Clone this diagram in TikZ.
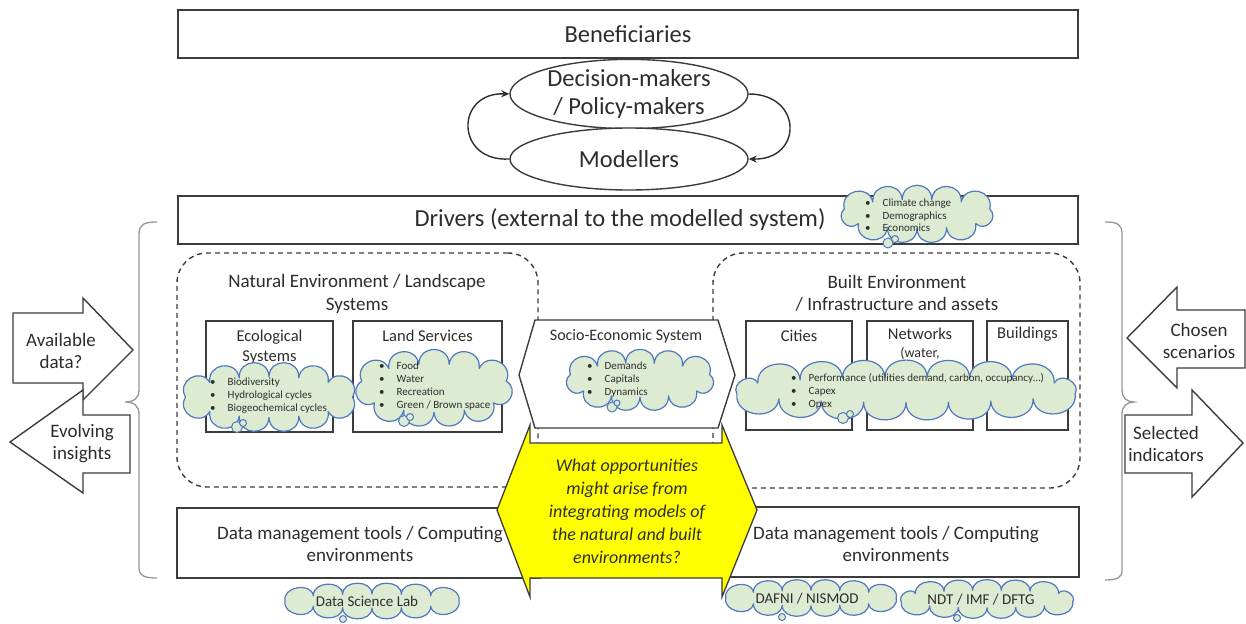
\documentclass[tikz,border=0pt]{standalone}
\usepackage{fontspec}
\setmainfont{Carlito}
\usetikzlibrary{shapes.geometric,arrows.meta}
\definecolor{ink}{RGB}{45,45,45}
\definecolor{edge}{RGB}{60,60,60}
\definecolor{cloudfill}{RGB}{221,235,211}
\definecolor{cloudline}{RGB}{79,120,190}
\definecolor{bracec}{RGB}{150,150,150}
\definecolor{yel}{RGB}{255,255,0}
\newcommand\fs[2]{\fontsize{#1}{#2}\selectfont}
\newcommand\bl{\textbullet\hspace{12pt}}
% cloud: #1 cx, #2 cy, #3 outer width, #4 outer height, #5 number of puffs, #6 puff factor
\newcommand\cloudit[4]{%
  \pgfmathsetmacro\cRx{#1/2-\cA}\pgfmathsetmacro\cRy{#2/2-\cA}%
  \pgfmathsetmacro\cA{0.75*#4*pi*(3*(\cRx+\cRy)-sqrt(3*\cRx+\cRy)*sqrt(\cRx+3*\cRy))/#3}}
\newcommand\cdlen[1]{%
  \pgfmathsetmacro\cdl{veclen(\cRx*(cos(90+#1*2.5)-cos(90+#1*2.5-2.5)),\cRy*(sin(90+#1*2.5)-sin(90+#1*2.5-2.5)))}}
\newcommand\drawcloud[6]{%
  \pgfmathsetmacro\cA{0.75*#6*pi*(#3+#4)/2/#5}%
  \cloudit{#3}{#4}{#5}{#6}\cloudit{#3}{#4}{#5}{#6}\cloudit{#3}{#4}{#5}{#6}\cloudit{#3}{#4}{#5}{#6}%
  \pgfmathsetmacro\cRx{#3/2-\cA}\pgfmathsetmacro\cRy{#4/2-\cA}%
  \gdef\cL{0}%
  \foreach \j in {1,...,144}{\cdlen{\j}\pgfmathsetmacro\cLn{\cL+\cdl}\global\let\cL\cLn}%
  \pgfmathsetmacro\cSeg{\cL/#5}%
  \gdef\cS{0}\gdef\cK{1}%
  \pgfmathsetmacro\cPy{#2+\cRy}%
  \expandafter\xdef\csname cpx0\endcsname{#1}%
  \expandafter\xdef\csname cpy0\endcsname{\cPy}%
  \expandafter\xdef\csname cpx#5\endcsname{#1}%
  \expandafter\xdef\csname cpy#5\endcsname{\cPy}%
  \foreach \j in {1,...,144}{%
    \cdlen{\j}%
    \pgfmathsetmacro\cSn{\cS+\cdl}%
    \pgfmathsetmacro\cTg{\cK*\cSeg}%
    \pgfmathtruncatemacro\cflag{\cSn>=\cTg ? 1 : 0}%
    \ifnum\cK<#5\relax\ifnum\cflag=1\relax
      \pgfmathsetmacro\cT{90+(\j-1)*2.5+2.5*(\cTg-\cS)/\cdl}%
      \pgfmathsetmacro\cPx{#1+\cRx*cos(\cT)}\pgfmathsetmacro\cPy{#2+\cRy*sin(\cT)}%
      \expandafter\xdef\csname cpx\cK\endcsname{\cPx}%
      \expandafter\xdef\csname cpy\cK\endcsname{\cPy}%
      \pgfmathtruncatemacro\cKn{\cK+1}\global\let\cK\cKn
    \fi\fi
    \global\let\cS\cSn
  }%
  \gdef\cpath{}%
  \foreach \ci in {1,...,#5}{%
    \pgfmathtruncatemacro\cj{\ci-1}%
    \edef\cxa{\csname cpx\cj\endcsname}\edef\cya{\csname cpy\cj\endcsname}%
    \edef\cxb{\csname cpx\ci\endcsname}\edef\cyb{\csname cpy\ci\endcsname}%
    \pgfmathsetmacro\cdx{\cxb-\cxa}\pgfmathsetmacro\cdy{\cyb-\cya}%
    \pgfmathsetmacro\cax{\cxa+#6*\cdy}\pgfmathsetmacro\cay{\cya-#6*\cdx}%
    \pgfmathsetmacro\cbx{\cxb+#6*\cdy}\pgfmathsetmacro\cby{\cyb-#6*\cdx}%
    \xdef\cpath{\cpath .. controls (\cax,\cay) and (\cbx,\cby) .. (\cxb,\cyb)}%
  }%
  \draw[cloudst] (\csname cpx0\endcsname,\csname cpy0\endcsname) \cpath -- cycle;%
}
\begin{document}
\begin{tikzpicture}[x=1pt,y=-1pt,
  box/.style={draw=edge,line width=1.4pt,fill=white,inner sep=0pt},
  dbox/.style={draw=edge,line width=1.4pt,dash pattern=on 5pt off 4pt,rounded corners=30pt,inner sep=0pt},
  lbl/.style={text=ink,inner sep=0pt,align=center},
  blt/.style={text=ink,inner sep=0pt,align=left,anchor=west,font=\fs{11}{13}},
  cloudst/.style={draw=cloudline,fill=cloudfill,line width=1.2pt,line join=round},
  bub/.style={circle,draw=cloudline,fill=cloudfill,line width=1pt,inner sep=0pt},
  ell/.style={ellipse,draw=edge,line width=1.4pt,fill=white,inner sep=0pt,text=ink,align=center,font=\fs{24.5}{28}},
  conn/.style={draw=ink,line width=1.4pt,-{Stealth[length=8pt,width=7pt]}},
  shp/.style={draw=edge,line width=1.4pt,fill=white,line join=miter},
  brc/.style={draw=bracec,line width=1.3pt}]
\useasboundingbox (0,0) rectangle (1246,623);
\fill[white] (0,0) rectangle (1246,623);

% top boxes
\node[box,minimum width=900,minimum height=48,lbl,font=\fs{24.5}{28}] (ben) at (628,34) {Beneficiaries};
\node[ell,minimum width=238,minimum height=58] (dec) at (629,94) {Decision-makers\\/ Policy-makers};
\node[ell,minimum width=238,minimum height=62] (mod) at (629,159) {Modellers};
\draw[conn] (mod.west) .. controls (455,162) and (455,92) .. (dec.west);
\draw[conn] (dec.east) .. controls (803,94) and (803,160) .. (mod.east);

\node[box,minimum width=900,minimum height=48] (drv) at (628,220) {};
\node[lbl,font=\fs{24.5}{28}] (tdrv) at (620,220) {Drivers (external to the modelled system)};
\drawcloud{917}{214}{184}{58}{11}{0.65}
\node[bub,minimum size=10] (bdrv1) at (888,243) {};
\node[bub,minimum size=7] (bdrv2) at (895,239) {};
\node[blt,font=\fs{11}{12.5}] (tcdrv) at (865,215.5) {\bl Climate change\\\bl Demographics\\\bl Economics};

% dashed environment boxes
\node[dbox,minimum width=361,minimum height=234] (nat) at (357.5,370) {};
\node[dbox,minimum width=367,minimum height=235] (blt) at (896.5,370.5) {};
\node[lbl,font=\fs{19}{23}] (tnat) at (357,293.5) {Natural Environment / Landscape\\Systems};
\node[lbl,font=\fs{19}{22}] (tblt) at (897,293) {Built Environment\\/ Infrastructure and assets};

% natural inner boxes
\node[box,minimum width=127,minimum height=111] (eco) at (269.5,376.5) {};
\node[lbl,font=\fs{16.5}{20}] (teco) at (269.5,347) {Ecological\\Systems};
\node[box,minimum width=149,minimum height=111] (land) at (427.5,376.5) {};
\node[lbl,font=\fs{16.5}{20}] (tland) at (427.5,336) {Land Services};
\drawcloud{269}{397}{196}{70}{12}{0.65}
\node[bub,minimum size=11] (beco1) at (237,427) {};
\node[bub,minimum size=7] (beco2) at (243,423) {};
\node[blt] (tceco) at (210,396) {\bl Biodiversity\\\bl Hydrological cycles\\\bl Biogeochemical cycles};
\drawcloud{434}{388}{180}{78}{11}{0.65}
\node[bub,minimum size=11] (bland1) at (404,421) {};
\node[bub,minimum size=7] (bland2) at (410,417) {};
\node[blt] (tcland) at (379,386.5) {\bl Food\\\bl Water\\\bl Recreation\\\bl Green / Brown space};

% built inner boxes
\node[box,minimum width=106,minimum height=109] (cit) at (799,375.5) {};
\node[lbl,font=\fs{16.5}{20}] (tcit) at (799,336) {Cities};
\node[box,minimum width=106,minimum height=109] (net) at (920,375.5) {};
\node[lbl,font=\fs{16.5}{20}] (tnet) at (920,334) {Networks};
\node[lbl,font=\fs{14}{16}] (tnet2) at (920,353) {(water,};
\node[box,minimum width=81,minimum height=109] (bld) at (1027.5,375.5) {};
\node[lbl,font=\fs{16.5}{20}] (tbld) at (1027.5,334) {Buildings};
\drawcloud{906}{390}{392}{60}{17}{0.55}
\node[bub,minimum size=11] (bblt1) at (843,418) {};
\node[bub,minimum size=7] (bblt2) at (850,414) {};
\node[blt] (tcblt) at (791,391) {\bl Performance (utilities demand, carbon, occupancy…)\\\bl Capex\\\bl Opex};

% socio-economic hexagon
\draw[shp] (535,320) -- (718,320) -- (735,375) -- (718,428) -- (535,428) -- (519,375) -- cycle;
\node[lbl,font=\fs{16}{20}] (tsoc) at (626,336) {Socio-Economic System};
\drawcloud{640}{380}{175}{62}{11}{0.65}
\node[bub,minimum size=10] (bsoc1) at (612,407) {};
\node[bub,minimum size=6] (bsoc2) at (617,403) {};
\node[blt] (tcsoc) at (587,379.5) {\bl Demands\\\bl Capitals\\\bl Dynamics};

% data management boxes
\node[box,minimum width=363,minimum height=70] (dml) at (358.5,543) {};
\node[lbl,font=\fs{19}{22}] (tdml) at (360,544) {Data management tools / Computing\\environments};
\node[box,minimum width=367,minimum height=70] (dmr) at (895.5,542) {};
\node[lbl,font=\fs{19}{22}] (tdmr) at (896,544) {Data management tools / Computing\\environments};

% yellow double arrow
\draw[draw=edge,line width=1.3pt,fill=yel,line join=miter] (530,443) -- (530,425) -- (497,510) -- (530,597) -- (530,578) -- (722,578) -- (722,597) -- (757,510) -- (722,425) -- (722,443) -- cycle;
\node[lbl,font=\fs{18}{23}\itshape] (tq) at (627,511) {What opportunities\\might arise from\\integrating models of\\the natural and built\\environments?};

% bottom clouds
\drawcloud{372}{601}{196}{36}{12}{0.5}
\node[bub,minimum size=7] (bdsl) at (343,619) {};
\node[lbl,font=\fs{15}{18}] (tdsl) at (367,601) {Data Science Lab};
\drawcloud{811}{598}{192}{37}{12}{0.5}
\node[bub,minimum size=7] (bdaf) at (782,617) {};
\node[lbl,font=\fs{15}{18}] (tdaf) at (807,599) {DAFNI / NISMOD};
\drawcloud{987}{599}{205}{39}{13}{0.5}
\node[bub,minimum size=7] (bndt) at (957,618) {};
\node[lbl,font=\fs{15}{18}] (tndt) at (981,600) {NDT / IMF / DFTG};

% braces
\draw[brc] (157,222) .. controls (145,222) and (139,224) .. (139,234) -- (139,390) .. controls (139,398) and (134,402) .. (125,402) .. controls (134,402) and (139,406) .. (139,414) -- (139,568) .. controls (139,576) and (145,578) .. (157,578);
\draw[brc] (1105,222) .. controls (1117,222) and (1122,224) .. (1122,234) -- (1122,390) .. controls (1122,398) and (1127,402) .. (1134,402) .. controls (1127,402) and (1122,406) .. (1122,414) -- (1122,570) .. controls (1122,578) and (1117,580) .. (1105,580);

% side arrows
\draw[shp] (13,313) -- (83,313) -- (83,298) -- (133,350) -- (83,400) -- (83,383) -- (13,383) -- cycle;
\node[lbl,font=\fs{19}{22}] (tav) at (61,351) {Available\\data?};
\draw[shp] (130,415) -- (83,415) -- (83,390) -- (10,442) -- (83,493) -- (83,473) -- (130,473) -- cycle;
\node[lbl,font=\fs{19}{22}] (tev) at (82,444) {Evolving\\insights};
\draw[shp] (1245,310) -- (1177,310) -- (1177,287) -- (1127,338) -- (1177,388) -- (1177,368) -- (1245,368) -- cycle;
\node[lbl,font=\fs{19}{22}] (tch) at (1199,341) {Chosen\\scenarios};
\draw[shp] (1125,415) -- (1192,415) -- (1192,390) -- (1243,443) -- (1192,497) -- (1192,473) -- (1125,473) -- cycle;
\node[lbl,font=\fs{19}{22}] (tsel) at (1166,444) {Selected\\indicators};
\end{tikzpicture}
\end{document}
